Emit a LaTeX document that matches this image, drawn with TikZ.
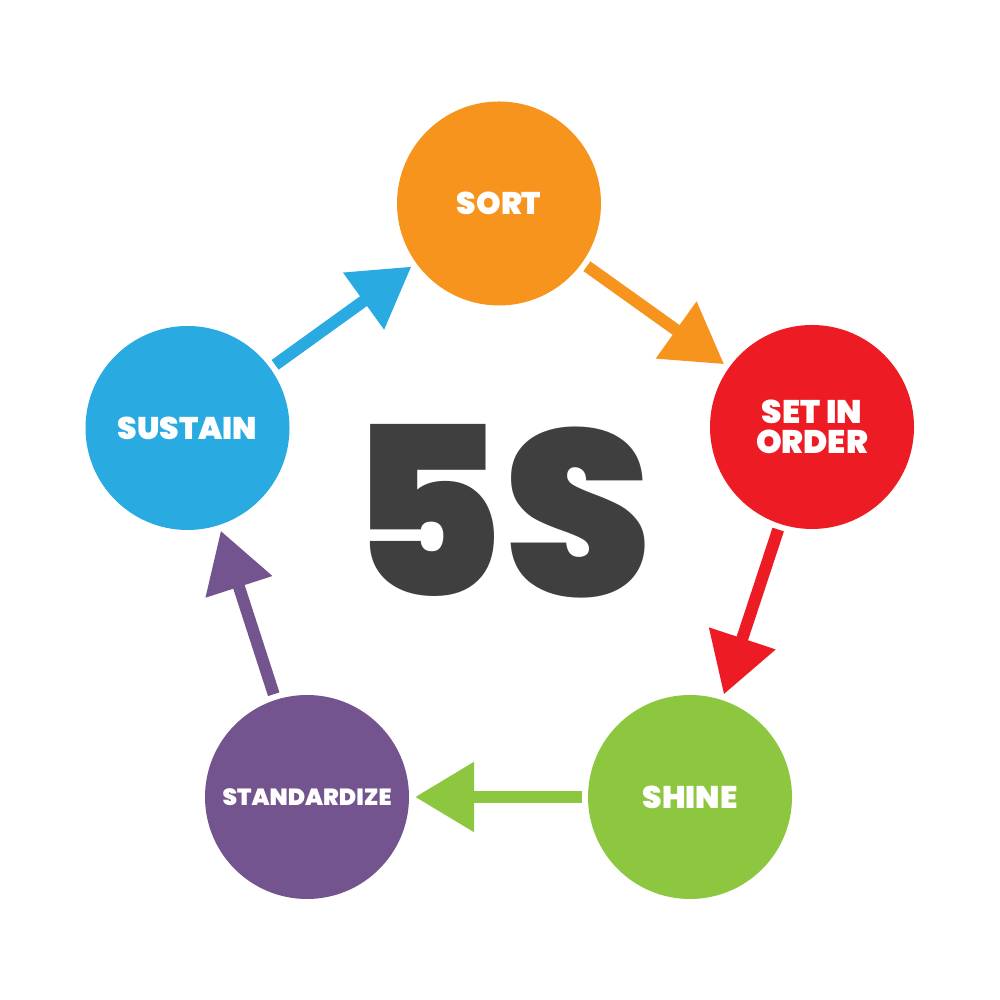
\documentclass[tikz,border=0pt]{standalone}
\usepackage{fontspec}
\setmainfont{Poppins}[BoldFont={Poppins Black}]
\usetikzlibrary{arrows.meta}
\definecolor{cOrange}{HTML}{F7941E}
\definecolor{cRed}{HTML}{ED1C24}
\definecolor{cGreen}{HTML}{8DC63F}
\definecolor{cPurple}{HTML}{73548E}
\definecolor{cBlue}{HTML}{29ABE2}
\definecolor{cDark}{HTML}{3F3F3F}
\begin{document}
\begin{tikzpicture}[
  stepcircle/.style={circle, fill=#1, inner sep=0pt, minimum size=2.04cm, outer sep=0.06cm,
    text=white, font=\bfseries\fontsize{8.9}{8.4}\selectfont, align=center},
  flowarrow/.style={draw=#1, line width=0.12cm,
    -{Triangle[length=0.59cm, width=0.67cm, fill=#1]}}
]
\useasboundingbox (0,0) rectangle (10,10);
\node[stepcircle=cOrange] (sort) at (4.99,7.965) {SORT};
\node[stepcircle=cRed, font=\bfseries\fontsize{9.3}{8.5}\selectfont] (set) at (8.12,5.73) {SET IN\\ORDER};
\node[stepcircle=cGreen] (shine) at (6.90,2.03) {SHINE};
\node[stepcircle=cPurple, font=\bfseries\fontsize{6.65}{8}\selectfont] (stand) at (3.07,2.03) {STANDARDIZE};
\node[stepcircle=cBlue] (sustain) at (1.875,5.72) {SUSTAIN};
\node[text=cDark, font=\bfseries\fontsize{67}{67}\selectfont, inner sep=0pt, anchor=base] (title) at (5.0,4.03) {5S};
\draw[flowarrow=cOrange] (sort) -- (set);
\draw[flowarrow=cRed] (set) -- (shine);
\draw[flowarrow=cGreen] (shine) -- (stand);
\draw[flowarrow=cPurple] (stand) -- (sustain);
\draw[flowarrow=cBlue] (sustain) -- (sort);
\end{tikzpicture}
\end{document}
